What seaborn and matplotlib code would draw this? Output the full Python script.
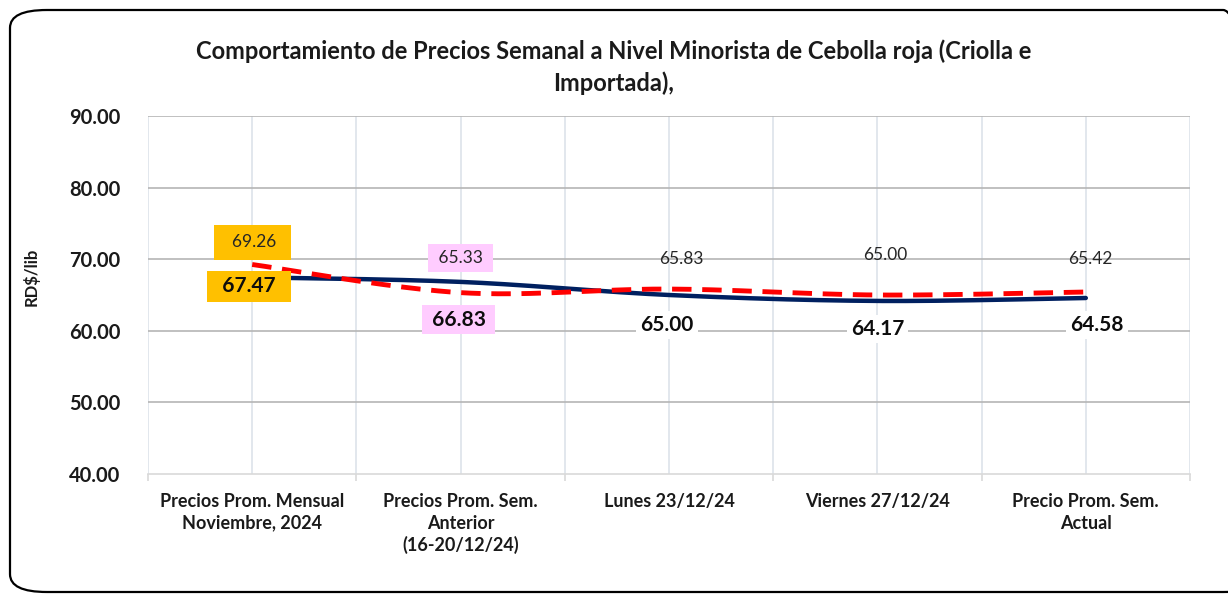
import numpy as np
import pandas as pd
import matplotlib
matplotlib.use("Agg")
import matplotlib.pyplot as plt
import seaborn as sns
from matplotlib.patches import FancyBboxPatch

categories = ["Precios Prom. Mensual\nNoviembre, 2024",
              "Precios Prom. Sem.\nAnterior\n(16-20/12/24)",
              "Lunes 23/12/24",
              "Viernes 27/12/24",
              "Precio Prom. Sem.\nActual"]
criolla = [67.47, 66.83, 65.00, 64.17, 64.58]
importada = [69.26, 65.33, 65.83, 65.00, 65.42]
yticks = [40, 50, 60, 70, 80, 90]
title = "Comportamiento de Precios Semanal a Nivel Minorista de Cebolla roja (Criolla e\nImportada),"

sns.set_theme(style="white")
plt.rcParams['font.family'] = ['Lato', 'DejaVu Sans']

fig = plt.figure(figsize=(12.28, 5.94), dpi=100)
ax = fig.add_axes([148/1228, 1-474/594, (1190-148)/1228, (474-116)/594])


def smooth(xs, ys, n=40):
    xs = np.asarray(xs, float); ys = np.asarray(ys, float)
    P = np.column_stack([xs, ys])
    out = []
    for i in range(len(P) - 1):
        p0 = P[i-1] if i > 0 else P[i]
        p1 = P[i]; p2 = P[i+1]
        p3 = P[i+2] if i + 2 < len(P) else P[i+1]
        c1 = p1 + (p2 - p0) / 6
        c2 = p2 - (p3 - p1) / 6
        t = np.linspace(0, 1, n)[:, None]
        seg = (1-t)**3*p1 + 3*(1-t)**2*t*c1 + 3*(1-t)*t**2*c2 + t**3*p2
        out.append(seg if i == 0 else seg[1:])
    S = np.vstack(out)
    return S[:, 0], S[:, 1]

x = np.arange(len(categories))
sx, sy = smooth(x, criolla)
df1 = pd.DataFrame({"x": sx, "y": sy})
sns.lineplot(data=df1, x="x", y="y", ax=ax, color="#002060", linewidth=3.2, sort=False, zorder=3)
rx, ry = smooth(x, importada)
df2 = pd.DataFrame({"x": rx, "y": ry})
sns.lineplot(data=df2, x="x", y="y", ax=ax, color="#FF0000", linewidth=3.5, sort=False,
             linestyle=(0, (4.0, 2.2)), zorder=4)

ax.set_xlim(-0.5, len(categories) - 0.5)
ax.set_ylim(40, 90)
ax.set_yticks(yticks)
ax.set_yticklabels([f"{v:.2f}" for v in yticks], fontsize=14.5, fontweight="bold", color="#1a1a1a")
ax.set_xticks(x)
ax.set_xticklabels(categories, fontsize=13, fontweight="bold", color="#1a1a1a", linespacing=1.3)
ax.set_xticks(np.arange(-0.5, len(categories), 1.0), minor=True)
ax.tick_params(axis="x", which="major", length=0, pad=14)
ax.tick_params(axis="x", which="minor", length=5, width=1.2, color="#d9d9d9", bottom=True)
ax.tick_params(axis="y", length=0, pad=20)
ax.set_xlabel("")
ax.set_ylabel("RD$/lib", fontsize=12, fontweight="bold", color="#1a1a1a")
ax.yaxis.set_label_coords(-0.104, 0.55)

for v in yticks[1:]:
    ax.axhline(v, color="#b5b5b5", linewidth=1.2, zorder=1)
for xv in np.arange(-0.5, len(categories), 0.5):
    ax.axvline(xv, color="#dde3ea", linewidth=1.2, zorder=0.5)
for s in ["top", "right", "left"]:
    ax.spines[s].set_visible(False)
ax.spines["bottom"].set_color("#d9d9d9")
ax.spines["bottom"].set_linewidth(1.2)

fig.text(0.5, 1-67/594, title, ha="center", va="center", fontsize=17,
         fontweight="bold", color="#1a1a1a", linespacing=1.45)

k = 0.72  # px -> points
red_off = [(0, -22), (0, -35), (12, -30), (8, -40), (5, -33)]
navy_off = [(-3, 9), (-2, 38), (-2, 30), (0, 28), (11, 27)]
red_bg = ["#FFC000", "#FFCCFF", None, None, None]
red_fmt = ["  {:.2f} ", " {:.2f} ", "{:.2f}", "{:.2f}", "{:.2f}"]
red_pad = [0.55, 0.35, 0, 0, 0]
navy_bg = ["#FFC000", "#FFCCFF", "white", "white", "white"]
navy_fmt = ["  {:.2f}  ", " {:.2f} ", "{:.2f}", "{:.2f}", "{:.2f}"]
navy_pad = [0.25, 0.22, 0.2, 0.2, 0.2]

for i in range(len(categories)):
    dx, dy = red_off[i]
    bb = None
    if red_bg[i]:
        bb = dict(boxstyle=f"square,pad={red_pad[i]}", fc=red_bg[i], ec="none")
    ax.annotate(red_fmt[i].format(importada[i]), (x[i], importada[i]), xytext=(dx*k, -dy*k),
                textcoords="offset points", ha="center", va="center", fontsize=12.5,
                color="#262626", bbox=bb, zorder=6)
    dx, dy = navy_off[i]
    bb = dict(boxstyle=f"square,pad={navy_pad[i]}", fc=navy_bg[i], ec="none")
    ax.annotate(navy_fmt[i].format(criolla[i]), (x[i], criolla[i]), xytext=(dx*k, -dy*k),
                textcoords="offset points", ha="center", va="center", fontsize=15,
                fontweight="bold", color="#0d0d0d", bbox=bb, zorder=6)

border = FancyBboxPatch((10/1228, 1-592/594), (1260-10)/1228, (592-10)/594,
                        boxstyle="round,pad=0,rounding_size=0.03",
                        transform=fig.transFigure, fc="none", ec="black", lw=1.6,
                        clip_on=False)
fig.patches.append(border)

fig.savefig("out.png", dpi=100)
